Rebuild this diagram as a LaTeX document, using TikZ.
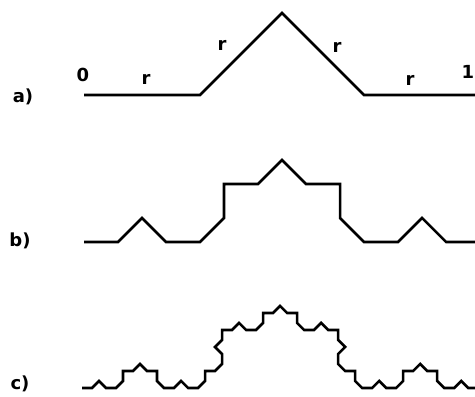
\documentclass[tikz,border=0pt]{standalone}
\usepackage{fontspec}
\setmainfont{DejaVu Sans}
\begin{document}
\begin{tikzpicture}[x=1pt,y=1pt,
  curve/.style={line width=2.6pt,line join=miter,line cap=butt},
  lbl/.style={font=\fontsize{18}{18}\selectfont\bfseries,inner sep=0pt}]
\useasboundingbox (0,0) rectangle (475,397);
\clip (0,0) rectangle (475,397);
% a) generator
\coordinate (sa) at (84,302);
\draw[curve] (sa) \foreach \a in {0,1,-1,0} { -- ++({\a*45}:116) };
% b) second step
\coordinate (sb) at (84,155);
\draw[curve] (sb) \foreach \a in {0,1,-1,0} {
  \foreach \b in {0,1,-1,0} { -- ++({(\a+\b)*45}:33.98) } };
% c) third step
\coordinate (sc) at (82,9);
\draw[curve] (sc) \foreach \a in {0,1,-1,0} {
  \foreach \b in {0,1,-1,0} {
    \foreach \c in {0,1,-1,0} { -- ++({(\a+\b+\c)*45}:9.955) } } };
% labels
\node[lbl] (la) at (23,300) {a)};
\node[lbl] (lb) at (20,156) {b)};
\node[lbl] (lc) at (20,13) {c)};
\node[lbl] (l0) at (83,322) {0};
\node[lbl] (l1) at (468,325) {1};
\node[lbl] (r1) at (146,318) {r};
\node[lbl] (r2) at (222,352) {r};
\node[lbl] (r3) at (337,350) {r};
\node[lbl] (r4) at (410,317) {r};
\end{tikzpicture}
\end{document}
